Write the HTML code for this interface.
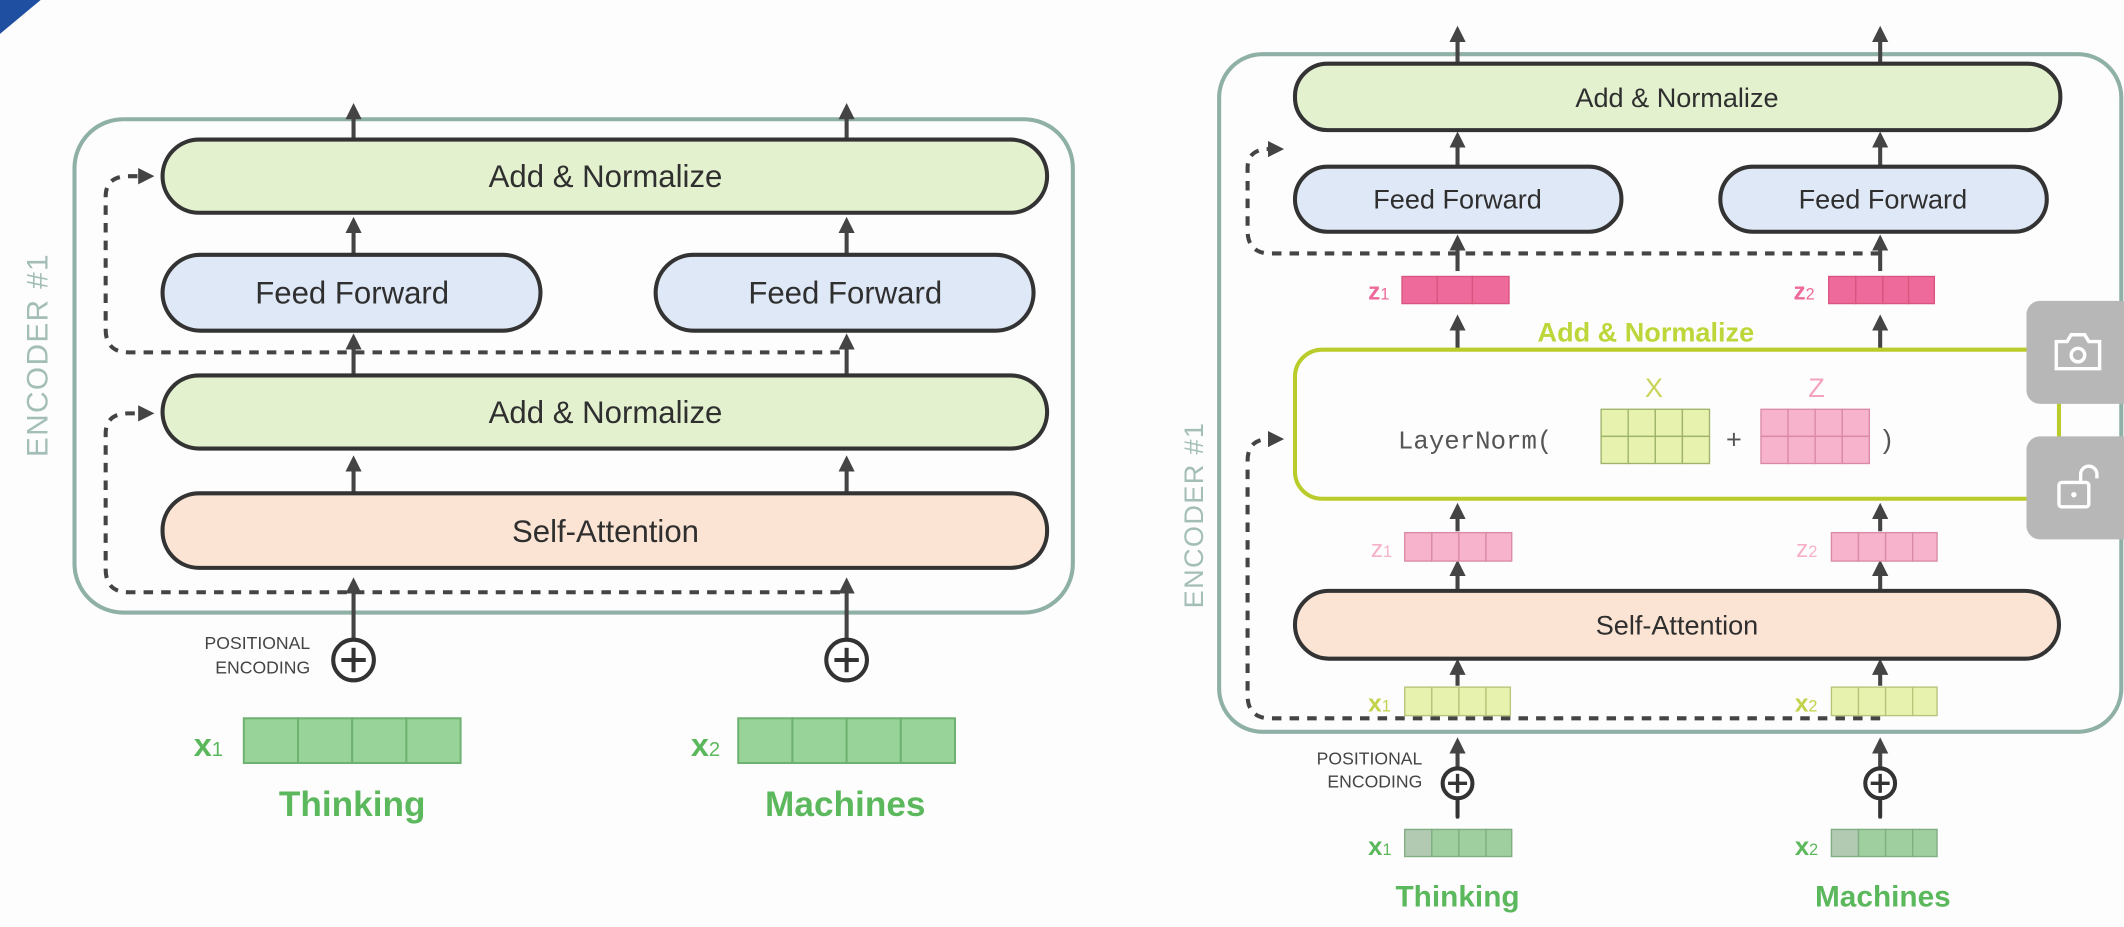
<!DOCTYPE html>
<html><head><meta charset="utf-8"><style>
html,body{margin:0;padding:0;background:#fdfdfd;}
svg{display:block;}
text{font-family:"Liberation Sans",sans-serif;}
text.mono{font-family:"Liberation Mono","DejaVu Sans Mono",monospace;}
</style></head><body>
<svg width="2124" height="927" viewBox="0 0 1568 684" preserveAspectRatio="none" xmlns="http://www.w3.org/2000/svg">
<defs>
<marker id="ah" markerWidth="4" markerHeight="4" refX="2" refY="2" orient="auto" markerUnits="strokeWidth">
<path d="M0,0 L4,2 L0,4 Z" fill="#444"/></marker>
</defs>
<rect width="1568" height="684" fill="#fdfdfd"/>
<path d="M0,0 L30,0 L0,25 Z" fill="#1f4fa0"/>

<!-- ===== LEFT ===== -->
<rect x="55" y="88" width="737" height="364" rx="36" fill="none" stroke="#8fb0a6" stroke-width="3"/>
<text transform="translate(35,262) rotate(-90)" text-anchor="middle" font-size="22" fill="#a3bdb7" letter-spacing="1">ENCODER #1</text>

<g stroke="#444" stroke-width="3" fill="none">
<line x1="261" y1="103" x2="261" y2="82" marker-end="url(#ah)"/>
<line x1="625" y1="103" x2="625" y2="82" marker-end="url(#ah)"/>
<line x1="261" y1="188" x2="261" y2="166" marker-end="url(#ah)"/>
<line x1="625" y1="188" x2="625" y2="166" marker-end="url(#ah)"/>
<line x1="261" y1="277" x2="261" y2="252" marker-end="url(#ah)"/>
<line x1="625" y1="277" x2="625" y2="252" marker-end="url(#ah)"/>
<line x1="261" y1="364" x2="261" y2="342" marker-end="url(#ah)"/>
<line x1="625" y1="364" x2="625" y2="342" marker-end="url(#ah)"/>
<line x1="261" y1="471" x2="261" y2="432" marker-end="url(#ah)"/>
<line x1="625" y1="471" x2="625" y2="432" marker-end="url(#ah)"/>
</g>
<g stroke="#444" stroke-width="3" fill="none" stroke-dasharray="7,6">
<path d="M620,437 L95,437 Q78,437 78,420 L78,320 Q78,305 95,305 L108,305" marker-end="url(#ah)"/>
<path d="M620,260 L95,260 Q78,260 78,243 L78,145 Q78,130 95,130 L108,130" marker-end="url(#ah)"/>
</g>

<rect x="120" y="103" width="653" height="54" rx="27" fill="#e3f1cf" stroke="#333" stroke-width="3"/>
<text x="447" y="138" text-anchor="middle" font-size="23" fill="#2f2f2f">Add &amp; Normalize</text>
<rect x="120" y="188" width="279" height="56" rx="28" fill="#dfe8f7" stroke="#333" stroke-width="3"/>
<text x="260" y="224" text-anchor="middle" font-size="23" fill="#2f2f2f">Feed Forward</text>
<rect x="484" y="188" width="279" height="56" rx="28" fill="#dfe8f7" stroke="#333" stroke-width="3"/>
<text x="624" y="224" text-anchor="middle" font-size="23" fill="#2f2f2f">Feed Forward</text>
<rect x="120" y="277" width="653" height="54" rx="27" fill="#e3f1cf" stroke="#333" stroke-width="3"/>
<text x="447" y="312" text-anchor="middle" font-size="23" fill="#2f2f2f">Add &amp; Normalize</text>
<rect x="120" y="364" width="653" height="55" rx="27" fill="#fbe4d3" stroke="#333" stroke-width="3"/>
<text x="447" y="400" text-anchor="middle" font-size="23" fill="#2f2f2f">Self-Attention</text>

<text x="229" y="479" text-anchor="end" font-size="13" fill="#444">POSITIONAL</text>
<text x="229" y="497" text-anchor="end" font-size="13" fill="#444">ENCODING</text>
<g stroke="#333" stroke-width="3" fill="#fff">
<circle cx="261" cy="487" r="15"/><circle cx="625" cy="487" r="15"/></g>
<g stroke="#333" stroke-width="3">
<line x1="252" y1="487" x2="270" y2="487"/><line x1="261" y1="478" x2="261" y2="496"/>
<line x1="616" y1="487" x2="634" y2="487"/><line x1="625" y1="478" x2="625" y2="496"/></g>

<g fill="#98d49a" stroke="#6fb171" stroke-width="1.5">
<rect x="180" y="530" width="40" height="33"/><rect x="220" y="530" width="40" height="33"/><rect x="260" y="530" width="40" height="33"/><rect x="300" y="530" width="40" height="33"/>
<rect x="545" y="530" width="40" height="33"/><rect x="585" y="530" width="40" height="33"/><rect x="625" y="530" width="40" height="33"/><rect x="665" y="530" width="40" height="33"/>
</g>
<text x="143" y="558" font-size="24" font-weight="bold" fill="#5cb85c">x<tspan font-size="15" font-weight="normal">1</tspan></text>
<text x="510" y="558" font-size="24" font-weight="bold" fill="#5cb85c">x<tspan font-size="15" font-weight="normal">2</tspan></text>
<text x="260" y="602" text-anchor="middle" font-size="26" font-weight="bold" fill="#5cb85c">Thinking</text>
<text x="624" y="602" text-anchor="middle" font-size="26" font-weight="bold" fill="#5cb85c">Machines</text>

<!-- ===== RIGHT ===== -->
<rect x="900" y="40" width="666" height="500" rx="32" fill="none" stroke="#8fb0a6" stroke-width="3"/>
<text transform="translate(888,380) rotate(-90)" text-anchor="middle" font-size="20" fill="#a3bdb7" letter-spacing="1">ENCODER #1</text>

<g stroke="#444" stroke-width="3" fill="none">
<line x1="1076" y1="47" x2="1076" y2="25" marker-end="url(#ah)"/>
<line x1="1388" y1="47" x2="1388" y2="25" marker-end="url(#ah)"/>
<line x1="1076" y1="123" x2="1076" y2="103" marker-end="url(#ah)"/>
<line x1="1388" y1="123" x2="1388" y2="103" marker-end="url(#ah)"/>
<line x1="1076" y1="200" x2="1076" y2="179" marker-end="url(#ah)"/>
<line x1="1388" y1="200" x2="1388" y2="179" marker-end="url(#ah)"/>
<line x1="1076" y1="258" x2="1076" y2="238" marker-end="url(#ah)"/>
<line x1="1388" y1="258" x2="1388" y2="238" marker-end="url(#ah)"/>
<line x1="1076" y1="392" x2="1076" y2="377" marker-end="url(#ah)"/>
<line x1="1388" y1="392" x2="1388" y2="377" marker-end="url(#ah)"/>
<line x1="1076" y1="436" x2="1076" y2="419" marker-end="url(#ah)"/>
<line x1="1388" y1="436" x2="1388" y2="419" marker-end="url(#ah)"/>
<line x1="1076" y1="506" x2="1076" y2="492" marker-end="url(#ah)"/>
<line x1="1388" y1="506" x2="1388" y2="492" marker-end="url(#ah)"/>
<line x1="1076" y1="603" x2="1076" y2="550" marker-end="url(#ah)"/>
<line x1="1388" y1="603" x2="1388" y2="550" marker-end="url(#ah)"/>
</g>
<g stroke="#444" stroke-width="3" fill="none" stroke-dasharray="7,6">
<path d="M1388,530 L938,530 Q921,530 921,513 L921,340 Q921,324 937,324 L942,324" marker-end="url(#ah)"/>
<path d="M1388,187 L938,187 Q921,187 921,170 L921,124 Q921,110 937,110 L942,110" marker-end="url(#ah)"/>
</g>

<rect x="956" y="47" width="565" height="49" rx="24" fill="#e3f1cf" stroke="#333" stroke-width="3"/>
<text x="1238" y="79" text-anchor="middle" font-size="20" fill="#2f2f2f">Add &amp; Normalize</text>
<rect x="956" y="123" width="241" height="48" rx="24" fill="#dfe8f7" stroke="#333" stroke-width="3"/>
<text x="1076" y="154" text-anchor="middle" font-size="20" fill="#2f2f2f">Feed Forward</text>
<rect x="1270" y="123" width="241" height="48" rx="24" fill="#dfe8f7" stroke="#333" stroke-width="3"/>
<text x="1390" y="154" text-anchor="middle" font-size="20" fill="#2f2f2f">Feed Forward</text>

<g fill="#ee6a9a" stroke="#d9557f" stroke-width="1">
<rect x="1035" y="204" width="26" height="20"/><rect x="1061" y="204" width="26" height="20"/><rect x="1087" y="204" width="27" height="20"/>
<rect x="1350" y="204" width="20" height="20"/><rect x="1370" y="204" width="20" height="20"/><rect x="1390" y="204" width="19" height="20"/><rect x="1409" y="204" width="19" height="20"/>
</g>
<text x="1010" y="221" font-size="18" font-weight="bold" fill="#ee6a9a">z<tspan font-size="12" font-weight="normal">1</tspan></text>
<text x="1324" y="221" font-size="18" font-weight="bold" fill="#ee6a9a">z<tspan font-size="12" font-weight="normal">2</tspan></text>

<text x="1215" y="252" text-anchor="middle" font-size="20" font-weight="bold" fill="#bdd63a">Add &amp; Normalize</text>
<rect x="956" y="258" width="564" height="110" rx="20" fill="none" stroke="#b9cc2c" stroke-width="3"/>
<text x="1221" y="293" text-anchor="middle" font-size="20" fill="#cad35a">X</text>
<text x="1341" y="293" text-anchor="middle" font-size="20" fill="#f4a3bf">Z</text>
<text class="mono" x="1032" y="331" font-size="19" fill="#555" style="font-family:'Liberation Mono','DejaVu Sans Mono',monospace">LayerNorm(</text>
<g fill="#e6f2ae" stroke="#9fb36a" stroke-width="1">
<rect x="1182" y="302" width="20" height="20"/><rect x="1202" y="302" width="20" height="20"/><rect x="1222" y="302" width="20" height="20"/><rect x="1242" y="302" width="20" height="20"/>
<rect x="1182" y="322" width="20" height="20"/><rect x="1202" y="322" width="20" height="20"/><rect x="1222" y="322" width="20" height="20"/><rect x="1242" y="322" width="20" height="20"/>
</g>
<text x="1280" y="331" text-anchor="middle" font-size="20" fill="#555">+</text>
<g fill="#f7b3cb" stroke="#d98aa6" stroke-width="1">
<rect x="1300" y="302" width="20" height="20"/><rect x="1320" y="302" width="20" height="20"/><rect x="1340" y="302" width="20" height="20"/><rect x="1360" y="302" width="20" height="20"/>
<rect x="1300" y="322" width="20" height="20"/><rect x="1320" y="322" width="20" height="20"/><rect x="1340" y="322" width="20" height="20"/><rect x="1360" y="322" width="20" height="20"/>
</g>
<text x="1390" y="331" font-size="20" fill="#555">)</text>

<g fill="#f7b3cb" stroke="#d98aa6" stroke-width="1">
<rect x="1037" y="393" width="20" height="21"/><rect x="1057" y="393" width="20" height="21"/><rect x="1077" y="393" width="20" height="21"/><rect x="1097" y="393" width="19" height="21"/>
<rect x="1352" y="393" width="20" height="21"/><rect x="1372" y="393" width="20" height="21"/><rect x="1392" y="393" width="20" height="21"/><rect x="1412" y="393" width="18" height="21"/>
</g>
<text x="1012" y="411" font-size="18" fill="#f6b0c8">z<tspan font-size="12">1</tspan></text>
<text x="1326" y="411" font-size="18" fill="#f6b0c8">z<tspan font-size="12">2</tspan></text>

<rect x="956" y="436" width="564" height="50" rx="25" fill="#fbe4d3" stroke="#333" stroke-width="3"/>
<text x="1238" y="468" text-anchor="middle" font-size="20" fill="#2f2f2f">Self-Attention</text>

<g fill="#e6f2ae" stroke="#b7c47a" stroke-width="1">
<rect x="1037" y="507" width="20" height="21"/><rect x="1057" y="507" width="20" height="21"/><rect x="1077" y="507" width="20" height="21"/><rect x="1097" y="507" width="18" height="21"/>
<rect x="1352" y="507" width="20" height="21"/><rect x="1372" y="507" width="20" height="21"/><rect x="1392" y="507" width="20" height="21"/><rect x="1412" y="507" width="18" height="21"/>
</g>
<text x="1010" y="525" font-size="18" font-weight="bold" fill="#c2d24a">x<tspan font-size="12" font-weight="normal">1</tspan></text>
<text x="1325" y="525" font-size="18" font-weight="bold" fill="#c2d24a">x<tspan font-size="12" font-weight="normal">2</tspan></text>

<text x="1050" y="564" text-anchor="end" font-size="13" fill="#444">POSITIONAL</text>
<text x="1050" y="581" text-anchor="end" font-size="13" fill="#444">ENCODING</text>
<g stroke="#333" stroke-width="3" fill="#fff">
<circle cx="1076" cy="578" r="11"/><circle cx="1388" cy="578" r="11"/></g>
<g stroke="#333" stroke-width="2.5">
<line x1="1069" y1="578" x2="1083" y2="578"/><line x1="1076" y1="571" x2="1076" y2="585"/>
<line x1="1381" y1="578" x2="1395" y2="578"/><line x1="1388" y1="571" x2="1388" y2="585"/>
<line x1="1076" y1="589" x2="1076" y2="604"/><line x1="1388" y1="589" x2="1388" y2="604"/></g>

<g fill="#9fce9f" stroke="#7fae80" stroke-width="1">
<rect x="1037" y="612" width="20" height="20" fill="#b2c9b2"/><rect x="1057" y="612" width="20" height="20"/><rect x="1077" y="612" width="20" height="20"/><rect x="1097" y="612" width="19" height="20"/>
<rect x="1352" y="612" width="20" height="20" fill="#b2c9b2"/><rect x="1372" y="612" width="20" height="20"/><rect x="1392" y="612" width="20" height="20"/><rect x="1412" y="612" width="18" height="20"/>
</g>
<text x="1010" y="631" font-size="19" font-weight="bold" fill="#5cb85c">x<tspan font-size="12" font-weight="normal">1</tspan></text>
<text x="1325" y="631" font-size="19" font-weight="bold" fill="#5cb85c">x<tspan font-size="12" font-weight="normal">2</tspan></text>
<text x="1076" y="669" text-anchor="middle" font-size="22" font-weight="bold" fill="#5cb85c">Thinking</text>
<text x="1390" y="669" text-anchor="middle" font-size="22" font-weight="bold" fill="#5cb85c">Machines</text>

<!-- overlay buttons -->
<rect x="1496" y="222" width="80" height="76" rx="10" fill="#b7b7b7"/>
<rect x="1496" y="322" width="80" height="76" rx="10" fill="#b7b7b7"/>
<g stroke="#fff" stroke-width="2.5" fill="none">
<path d="M1518,252 h8 l3,-5 h10 l3,5 h8 v20 h-32 z"/><circle cx="1534" cy="262" r="5"/>
<rect x="1520" y="356" width="22" height="18" rx="2"/><path d="M1536,356 v-6 a6,6 0 0 1 12,0 v3"/>
</g>
<circle cx="1531" cy="365" r="2" fill="#fff"/>
</svg>
</body></html>
